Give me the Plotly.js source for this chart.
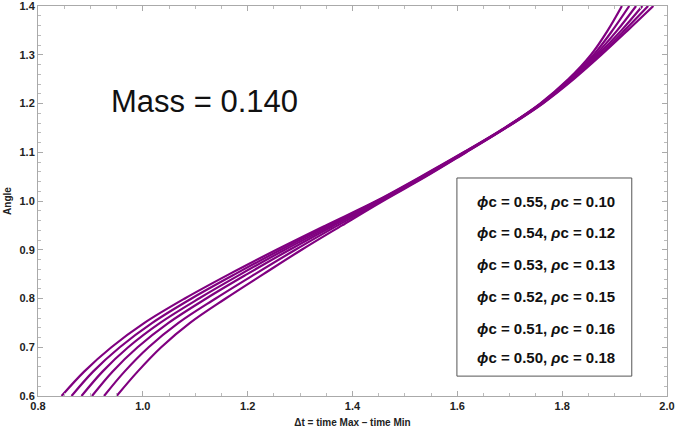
<!DOCTYPE html>
<html>
<head>
<meta charset="utf-8">
<script src="https://cdn.plot.ly/plotly-3.0.1.min.js"></script>
<style>
  html, body { margin: 0; padding: 0; background: white; }
  #chart { width: 676px; height: 433px; }
</style>
</head>
<body>
<div id="chart"></div>
<script>
// Angle samples shared by every curve, Δt per curve
const angle = [0.60, 0.65, 0.70, 0.75, 0.80, 0.85, 0.90, 0.95, 1.00, 1.05, 1.10, 1.15, 1.20, 1.25, 1.30, 1.35, 1.40];

const dt055 = [0.845, 0.888, 0.940, 1.003, 1.080, 1.165, 1.255, 1.349, 1.445, 1.530, 1.612, 1.690, 1.758, 1.812, 1.855, 1.887, 1.914];
const dt054 = [0.864, 0.905, 0.956, 1.018, 1.093, 1.176, 1.263, 1.354, 1.447, 1.532, 1.613, 1.691, 1.759, 1.814, 1.860, 1.896, 1.928];
const dt053 = [0.883, 0.923, 0.972, 1.033, 1.107, 1.187, 1.271, 1.360, 1.449, 1.534, 1.614, 1.691, 1.760, 1.816, 1.864, 1.905, 1.941];
const dt052 = [0.903, 0.942, 0.990, 1.049, 1.121, 1.199, 1.280, 1.365, 1.452, 1.536, 1.615, 1.692, 1.761, 1.818, 1.868, 1.913, 1.953];
const dt051 = [0.926, 0.965, 1.011, 1.068, 1.139, 1.214, 1.291, 1.372, 1.455, 1.538, 1.616, 1.692, 1.762, 1.820, 1.872, 1.919, 1.964];
const dt050 = [0.950, 0.990, 1.035, 1.090, 1.158, 1.230, 1.303, 1.380, 1.458, 1.540, 1.617, 1.693, 1.763, 1.822, 1.875, 1.925, 1.974];

const phiC = ['0.55', '0.54', '0.53', '0.52', '0.51', '0.50'];
const rhoC = ['0.10', '0.12', '0.13', '0.15', '0.16', '0.18'];
const massLabel = 'Mass = 0.140';

const curves = [dt055, dt054, dt053, dt052, dt051, dt050];
const purple = '#800080';
const fontFamily = '"Liberation Sans", Arial, sans-serif';

const traces = curves.map((dt, i) => ({
    x: dt,
    y: angle,
    type: 'scatter',
    mode: 'lines',
    name: 'ϕc = ' + phiC[i],
    line: { color: purple, width: 2.2, shape: 'spline', smoothing: 1 },
    hoverinfo: 'skip'
}));

// Framed legend box drawn as a shape, its rows as annotations
const rowY = [0.500, 0.418, 0.336, 0.254, 0.174, 0.100];
const annotations = phiC.map((phi, i) => ({
    xref: 'paper', yref: 'paper',
    x: 0.808, y: rowY[i],
    xanchor: 'center', yanchor: 'middle',
    text: '<i>ϕ</i>c = ' + phi + ', <i>ρ</i>c = ' + rhoC[i],
    showarrow: false,
    font: { family: fontFamily, size: 15, color: '#111', weight: 'bold' }
}));

annotations.push({
    xref: 'paper', yref: 'paper',
    x: 0.2655, y: 0.754,
    xanchor: 'center', yanchor: 'middle',
    text: massLabel,
    showarrow: false,
    font: { family: fontFamily, size: 31, color: '#111' }
});

const axisCommon = {
    showline: true,
    linecolor: '#aaaaaa',
    linewidth: 1,
    mirror: 'allticks',
    ticks: 'inside',
    ticklen: 5,
    tickwidth: 1,
    tickcolor: '#aaaaaa',
    showgrid: false,
    zeroline: false,
    tickformat: '.1f',
    ticklabeloverflow: 'allow',
    tickfont: { family: fontFamily, size: 11, color: '#222', weight: 'bold' }
};

const layout = {
    width: 676,
    height: 433,
    margin: { l: 38, r: 9, t: 6, b: 37 },
    showlegend: false,
    plot_bgcolor: 'white',
    paper_bgcolor: 'white',
    xaxis: Object.assign({}, axisCommon, {
        range: [0.8, 2.0000001],
        dtick: 0.2,
        tick0: 0.8,
        minor: { dtick: 0.05, ticks: 'inside', ticklen: 3, tickcolor: '#bbbbbb', showgrid: false },
        title: {
            text: 'Δt = time Max – time Min',
            font: { family: fontFamily, size: 10, color: '#222', weight: 'bold' },
            standoff: 7
        }
    }),
    yaxis: Object.assign({}, axisCommon, {
        range: [0.6, 1.4000001],
        dtick: 0.1,
        tick0: 0.6,
        minor: { dtick: 0.02, ticks: 'inside', ticklen: 3, tickcolor: '#bbbbbb', showgrid: false },
        title: {
            text: 'Angle',
            font: { family: fontFamily, size: 10, color: '#222', weight: 'bold' },
            standoff: 6
        }
    }),
    shapes: [{
        type: 'rect',
        xref: 'paper', yref: 'paper',
        x0: 0.666, x1: 0.944, y0: 0.051, y1: 0.559,
        line: { color: '#555555', width: 1 },
        fillcolor: 'white',
        layer: 'above'
    }],
    annotations: annotations
};

Plotly.newPlot('chart', traces, layout, { displayModeBar: false, staticPlot: true });
</script>
</body>
</html>
